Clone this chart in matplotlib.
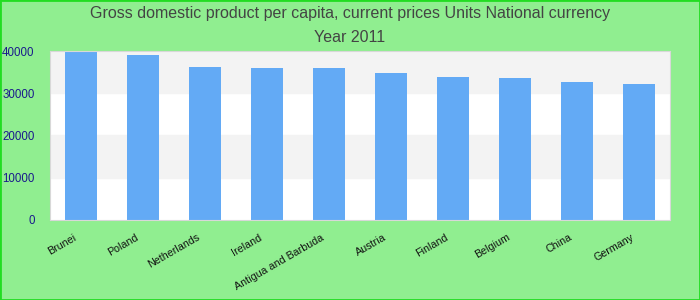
import matplotlib
matplotlib.use("Agg")
import matplotlib.pyplot as plt
from matplotlib.patches import Rectangle
from matplotlib.transforms import ScaledTranslation

countries = ["Brunei", "Poland", "Netherlands", "Ireland", "Antigua and Barbuda",
             "Austria", "Finland", "Belgium", "China", "Germany"]
gdp = [39800, 39000, 36200, 36000, 36000, 34800, 33850, 33600, 32650, 32200]
yticks = [0, 10000, 20000, 30000, 40000]

plt.rcParams['font.family'] = ['Liberation Sans', 'DejaVu Sans']

fig = plt.figure(figsize=(7, 3), dpi=100, facecolor="#90ee90")
fig.patches.append(Rectangle((0, 0), 1, 1, transform=fig.transFigure, fill=False,
                             edgecolor="#22dd22", linewidth=2))
ax = fig.add_axes([0.0714, 0.267, 0.886, 0.563])
ax.set_facecolor("white")

# alternating bands between grid lines
for i in range(len(yticks) - 1):
    if i % 2 == 1:
        ax.axhspan(yticks[i], yticks[i + 1], color="#f3f3f3", zorder=0)

x = range(len(countries))
ax.bar(x, gdp, width=0.52, color="#63aaf5", zorder=2)
ax.set_xlim(-0.5, len(countries) - 0.5)
ax.set_ylim(0, 40000)
ax.set_yticks(yticks)
ax.set_yticklabels([str(v) for v in yticks], color="#1a1a8c", fontsize=8.3)
ax.set_xticks(list(x))
ax.set_xticklabels(countries, rotation=30, ha="right", rotation_mode="anchor",
                   fontsize=7.7, color="#111111")
ax.tick_params(axis="both", length=0)
ax.tick_params(axis="y", pad=11)
ax.tick_params(axis="x", pad=9)
shift = ScaledTranslation(-8 / 100, 0, fig.dpi_scale_trans)
for lbl in ax.get_xticklabels():
    lbl.set_transform(lbl.get_transform() + shift)
for s in ax.spines.values():
    s.set_color("#d8d8d8")

fig.text(0.5, 0.955, "Gross domestic product per capita, current prices Units National currency",
         ha="center", va="center", fontsize=11.5, color="#444444")
fig.text(0.5, 0.875, "Year 2011", ha="center", va="center", fontsize=11.5, color="#444444")

fig.savefig("out.png", dpi=100, facecolor=fig.get_facecolor())
